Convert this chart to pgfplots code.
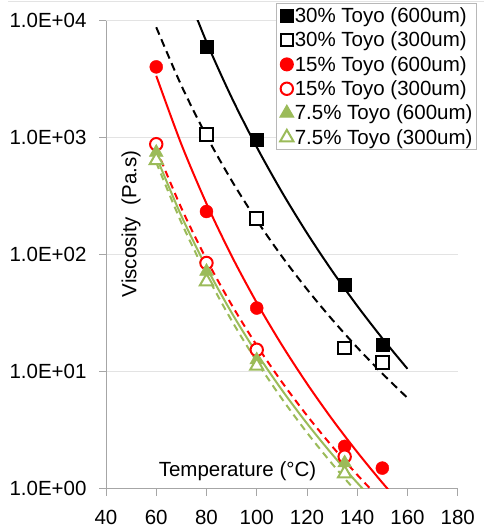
\documentclass[border=0pt]{standalone}
\usepackage{fontspec}
\setmainfont{Liberation Sans}
\usepackage{pgfplots}
\pgfplotsset{compat=1.18}
\definecolor{xlgreen}{HTML}{9BBB59}
\definecolor{axgray}{HTML}{A6A6A6}
\definecolor{grdgray}{HTML}{E3E3E3}
\newcommand{\chartfont}{\fontsize{20.5}{24}\selectfont}
\begin{document}
\begin{tikzpicture}[x=1pt,y=1pt]
\useasboundingbox (0,0) rectangle (484,532);
\draw[grdgray, line width=1pt] (8,530.3) -- (484,530.3);
\begin{axis}[
  scale only axis, width=351.7pt, height=468pt,
  at={(106pt,43.3pt)}, anchor=south west,
  xmin=40, xmax=180, ymode=log, ymin=1, ymax=10000,
  xtick={40,60,...,180},
  ytick={1,10,100,1000,10000},
  yticklabels={1.0E+00,1.0E+01,1.0E+02,1.0E+03,1.0E+04},
  yminorticks=false,
  axis x line*=bottom, axis y line*=left,
  axis line style={draw=axgray, line width=0.9pt},
  tick style={draw=axgray, line width=0.9pt},
  tick align=outside, major tick length=7pt,
  ymajorgrids, grid style={draw=grdgray, line width=0.9pt},
  tick label style={font=\chartfont},
  xticklabel style={yshift=-11pt},
  yticklabel style={xshift=-9pt},
  /pgf/number format/assume math mode=true,
  clip=true,
  legend cell align=left,
  legend style={at={(axis description cs:1.0549,1.0378)}, anchor=north east,
    draw=axgray!80, line width=1pt, fill=white, font=\chartfont,
    row sep=6pt, inner sep=3pt, nodes={inner sep=1pt}},
  legend image code/.code={\draw[mark repeat=2,mark phase=2,#1] plot coordinates {(0pt,0pt)(8pt,0pt)(16pt,0pt)};},
]
% trend lines (power fits)
\addplot[black, line width=2pt, smooth, forget plot] coordinates {
 (70,22750)(80,6592)(90,2208)(100,831.8)(110,343.6)(120,153.1)(130,72.78)(140,36.56)(150,19.28)(160,10.59)};
\addplot[black, line width=2pt, dash pattern=on 8pt off 5pt, smooth, forget plot] coordinates {
 (60,8790)(70,2793)(80,1035)(90,430.7)(100,196.8)(110,96.8)(120,50.7)(130,27.96)(140,16.11)(150,9.643)(160,5.969)};
\addplot[red, line width=2pt, smooth, forget plot] coordinates {
 (60,3379)(70,878.6)(80,273.5)(90,97.7)(100,38.92)(110,16.92)(120,7.911)(130,3.929)(140,2.057)(150,1.125)(160,0.640)};
\addplot[red, line width=2pt, dash pattern=on 7pt off 5pt, smooth, forget plot] coordinates {
 (60,804.8)(70,250.4)(80,91.1)(90,37.34)(100,16.81)(110,8.169)(120,4.226)(130,2.305)(140,1.315)(150,0.7794)};
\addplot[xlgreen, line width=2pt, smooth, forget plot] coordinates {
 (60,689.8)(70,214.5)(80,78.0)(90,31.96)(100,14.38)(110,6.988)(120,3.614)(130,1.971)(140,1.124)(150,0.6665)};
\addplot[xlgreen, line width=2pt, dash pattern=on 7pt off 5pt, smooth, forget plot] coordinates {
 (60,614.5)(70,188.4)(80,67.68)(90,27.42)(100,12.22)(110,5.882)(120,3.017)(130,1.634)(140,0.925)(150,0.545)};
% data markers
\addplot[only marks, mark=square*, mark size=6.5pt, draw=black, fill=black] coordinates {
 (80,6000)(100,960)(135,55)(150,17)};
\addlegendentry{30\% Toyo (600um)}
\addplot[only marks, mark=square*, mark size=6.3pt, draw=black, fill=white, line width=2pt] coordinates {
 (80,1060)(100,203)(135,16)(150,12)};
\addlegendentry{30\% Toyo (300um)}
\addplot[only marks, mark=*, mark size=6.5pt, draw=red, fill=red] coordinates {
 (60,4030)(80,234)(100,35)(135,2.3)(150,1.5)};
\addlegendentry{15\% Toyo (600um)}
\addplot[only marks, mark=*, mark size=6.2pt, draw=red, fill=white, line width=2pt] coordinates {
 (60,880)(80,85)(100,15.4)(135,1.88)};
\addlegendentry{15\% Toyo (300um)}
\addplot[only marks, mark=triangle*, mark size=8pt, draw=xlgreen, fill=xlgreen] coordinates {
 (60,750)(80,72)(100,12.6)(135,1.66)};
\addlegendentry{7.5\% Toyo (600um)}
\addplot[only marks, mark=triangle*, mark size=7.6pt, draw=xlgreen, fill=white, line width=2pt] coordinates {
 (60,640)(80,59)(100,11.2)(135,1.35)};
\addlegendentry{7.5\% Toyo (300um)}
\end{axis}
\node[rotate=90, font=\chartfont] at (131,308) {Viscosity\ \ (Pa.s)};
\node[font=\chartfont] at (237.5,61) {Temperature (°C)};
\end{tikzpicture}
\end{document}
